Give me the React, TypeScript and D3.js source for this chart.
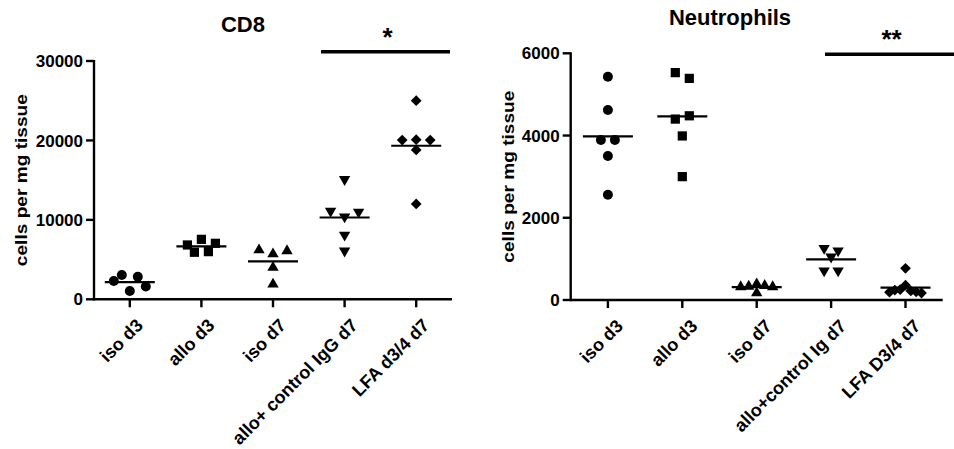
import React from 'react';
import * as d3 from 'd3';

// CD8 panel
const cd8Groups = ['iso d3', 'allo d3', 'iso d7', 'allo+ control IgG d7', 'LFA d3/4 d7'];
const cd8IsoD3 = [2310, 3060, 1050, 2850, 1600];
const cd8AlloD3 = [5920, 6000, 6840, 7550, 7050];
const cd8IsoD7 = [6200, 5700, 6100, 4000, 1900];
const cd8AlloIgG = [15100, 11100, 10400, 11000, 8100, 6100];
const cd8Lfa = [25000, 20050, 20100, 20050, 18800, 12000];
const cd8Ticks = [0, 10000, 20000, 30000];

// Neutrophils panel
const neuGroups = ['iso d3', 'allo d3', 'iso d7', 'allo+control Ig d7', 'LFA D3/4 d7'];
const neuIsoD3 = [5430, 4620, 3890, 3890, 3500, 2560];
const neuAlloD3 = [5530, 5390, 4400, 4480, 3990, 3000];
const neuIsoD7 = [320, 330, 390, 350, 320, 170];
const neuAlloIg = [1260, 1200, 1050, 710, 710];
const neuLfa = [770, 190, 240, 250, 360, 220, 200, 170];
const neuTicks = [0, 2000, 4000, 6000];

const FONT = '"Liberation Sans", Arial, sans-serif';
const GAP = 6;
const STEP = 14;
const MAXW = 32;

const symbols = [
  { type: d3.symbolCircle, size: 78, rot: 0 },
  { type: d3.symbolSquare, size: 85, rot: 0 },
  { type: d3.symbolTriangle, size: 56, rot: 0 },
  { type: d3.symbolTriangle, size: 56, rot: 180 },
  { type: d3.symbolSquare, size: 58, rot: 45 },
];

// GraphPad-like scatter: points that sit in the same row are spread sideways
function swarm(vals: number[], y: (v: number) => number) {
  const idx = vals.map((_, i) => i).sort((a, b) => y(vals[b]) - y(vals[a]));
  const rows: number[][] = [];
  let cur: number[] = [];
  let prev: number | null = null;
  for (const i of idx) {
    const py = y(vals[i]);
    if (prev !== null && Math.abs(py - prev) > GAP) {
      rows.push(cur);
      cur = [];
    }
    cur.push(i);
    prev = py;
  }
  rows.push(cur);
  const off = vals.map(() => 0);
  rows.forEach((r) => {
    r.sort((a, b) => a - b);
    const n = r.length;
    const s = n > 1 ? Math.min(STEP, MAXW / (n - 1)) : 0;
    r.forEach((i, k) => (off[i] = (k - (n - 1) / 2) * s));
  });
  return off;
}

type PanelProps = {
  groups: string[];
  data: number[][];
  ticks: number[];
  xRange: [number, number];
  yRange: [number, number];
  title: string;
  titleX: number;
  titleY: number;
  star: string;
  barFrom: number;
  barTo: number;
  barY: number;
  labelX: number;
  labelDx: number;
};

function Panel(p: PanelProps) {
  const x = d3.scalePoint<string>().domain(p.groups).range(p.xRange).padding(0.5);
  const y = d3.scaleLinear().domain([0, d3.max(p.ticks) as number]).range(p.yRange);
  const [x0, x1] = p.xRange;
  const y0 = p.yRange[0];
  return (
    <g fontFamily={FONT} fontWeight="bold" fill="#000">
      <text x={p.titleX} y={p.titleY} fontSize={22} textAnchor="middle">{p.title}</text>
      <text
        transform={`translate(${p.labelX},${(p.yRange[0] + p.yRange[1]) / 2}) rotate(-90)`}
        fontSize={17}
        textAnchor="middle"
        textLength={172}
        lengthAdjust="spacingAndGlyphs"
      >
        cells per mg tissue
      </text>
      {/* y axis */}
      <line x1={x0} x2={x0} y1={p.yRange[1] - 1} y2={y0 + 1.2} stroke="#000" strokeWidth={2.4} />
      {p.ticks.map((t) => (
        <g key={t}>
          <line x1={x0 - 8} x2={x0} y1={y(t)} y2={y(t)} stroke="#000" strokeWidth={2.4} />
          <text x={x0 - 11} y={y(t)} dy="0.36em" fontSize={17} textAnchor="end">{t}</text>
        </g>
      ))}
      {/* x axis */}
      <line x1={x0} x2={x1} y1={y0} y2={y0} stroke="#000" strokeWidth={2.4} />
      {p.groups.map((g) => (
        <g key={g}>
          <line x1={x(g)} x2={x(g)} y1={y0} y2={y0 + 8} stroke="#000" strokeWidth={2.4} />
          <text
            transform={`translate(${(x(g) as number) + p.labelDx},${y0 + 18}) rotate(-45)`}
            dy="0.72em"
            fontSize={18}
            textAnchor="end"
          >
            {g}
          </text>
        </g>
      ))}
      {/* points and mean lines */}
      {p.data.map((vals, gi) => {
        const cx = x(p.groups[gi]) as number;
        const off = swarm(vals, y);
        const sym = symbols[gi];
        const path = d3.symbol().type(sym.type).size(sym.size)() as string;
        const mean = d3.mean(vals) as number;
        return (
          <g key={gi}>
            {vals.map((v, i) => (
              <path
                key={i}
                d={path}
                transform={`translate(${cx + off[i]},${y(v)}) rotate(${sym.rot})`}
                fill="#000"
              />
            ))}
            <line x1={cx - 25} x2={cx + 25} y1={y(mean)} y2={y(mean)} stroke="#000" strokeWidth={2.2} />
          </g>
        );
      })}
      {/* significance */}
      <line x1={p.barFrom} x2={p.barTo} y1={p.barY} y2={p.barY} stroke="#000" strokeWidth={3.4} />
      <text x={(p.barFrom + Math.min(p.barTo, 954)) / 2 + 2} y={p.barY - 6} fontSize={26} textAnchor="middle">
        {p.star}
      </text>
    </g>
  );
}

export default function App() {
  const cd8Data = [cd8IsoD3, cd8AlloD3, cd8IsoD7, cd8AlloIgG, cd8Lfa];
  const neuData = [neuIsoD3, neuAlloD3, neuIsoD7, neuAlloIg, neuLfa];
  return (
    <svg
      width={954}
      height={449}
      style={{ position: 'absolute', left: 0, top: 0, background: '#fff' }}
    >
      <Panel
        groups={cd8Groups}
        data={cd8Data}
        ticks={cd8Ticks}
        xRange={[94, 452]}
        yRange={[299.3, 61]}
        title="CD8"
        titleX={243}
        titleY={32}
        star="*"
        barFrom={321}
        barTo={450}
        barY={51.7}
        labelX={27}
        labelDx={5}
      />
      <Panel
        groups={neuGroups}
        data={neuData}
        ticks={neuTicks}
        xRange={[570.7, 942.7]}
        yRange={[300, 53.3]}
        title="Neutrophils"
        titleX={730}
        titleY={25}
        star="**"
        barFrom={825}
        barTo={960}
        barY={54.3}
        labelX={514}
        labelDx={7}
      />
    </svg>
  );
}
